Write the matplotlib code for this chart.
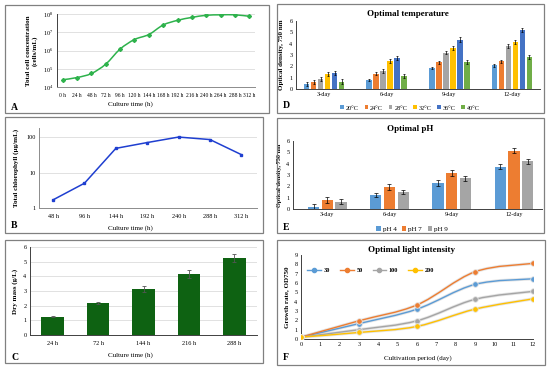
import matplotlib
matplotlib.use("Agg")
import matplotlib.pyplot as plt
import numpy as np
from matplotlib.patches import Rectangle, PathPatch
from matplotlib.path import Path
from matplotlib.lines import Line2D

plt.rcParams['font.family'] = ['Liberation Serif', 'DejaVu Serif']
plt.rcParams['mathtext.fontset'] = 'stix'

# ---- data ----
a_times = ['0 h', '24 h', '48 h', '72 h', '96 h', '120 h', '144 h', '168 h',
           '192 h', '216 h', '240 h', '264 h', '288 h', '312 h']
a_cells = [2.5e4, 3.3e4, 5.5e4, 1.8e5, 1.2e6, 4.0e6, 7.5e6, 2.5e7,
           4.5e7, 6.5e7, 8.5e7, 9.0e7, 9.0e7, 7.5e7]

b_times = ['48 h', '96 h', '144 h', '192 h', '240 h', '288 h', '312 h']
b_chl = [1.7, 5.0, 48, 70, 100, 85, 32]

c_times = ['24 h', '72 h', '144 h', '216 h', '288 h']
c_mass = [1.25, 2.2, 3.15, 4.15, 5.25]
c_err = [0.05, 0.08, 0.2, 0.25, 0.25]

days = ['3-day', '6-day', '9-day', '12-day']
temps = ['20°C', '24°C', '28°C', '32°C', '36°C', '40°C']
temp_od = [[0.45, 0.8, 1.85, 2.1],
           [0.6, 1.35, 2.35, 2.45],
           [0.85, 1.6, 3.2, 3.8],
           [1.3, 2.45, 3.6, 4.15],
           [1.4, 2.75, 4.35, 5.2],
           [0.65, 1.15, 2.4, 2.85]]
temp_err = [[0.15, 0.12, 0.12, 0.12],
            [0.18, 0.15, 0.12, 0.12],
            [0.18, 0.15, 0.12, 0.15],
            [0.18, 0.18, 0.18, 0.15],
            [0.2, 0.2, 0.2, 0.15],
            [0.2, 0.18, 0.18, 0.18]]

phs = ['pH 4', 'pH 7', 'pH 9']
ph_od = [[0.2, 1.25, 2.3, 3.75],
         [0.8, 1.95, 3.2, 5.15],
         [0.65, 1.5, 2.7, 4.2]]
ph_err = [[0.25, 0.2, 0.25, 0.2],
          [0.3, 0.3, 0.25, 0.25],
          [0.2, 0.2, 0.2, 0.2]]

f_days = [0, 3, 6, 9, 12]
lights = ['30', '50', '100', '200']
light_od = [[0.2, 1.65, 3.2, 5.85, 6.45],
            [0.2, 1.95, 3.65, 7.2, 8.1],
            [0.2, 1.0, 1.95, 4.25, 5.1],
            [0.2, 0.7, 1.35, 3.2, 4.3]]

# ---- layout helpers ----
W, H = 550, 368
fig = plt.figure(figsize=(5.5, 3.68), dpi=100)
fig.patch.set_facecolor('white')

def ax_px(l, t, r, b):
    return fig.add_axes([l / W, 1 - b / H, (r - l) / W, (b - t) / H])

def box(l, t, r, b):
    fig.add_artist(Rectangle((l / W, 1 - b / H), (r - l) / W, (b - t) / H,
                             transform=fig.transFigure, fill=False,
                             ec='#808080', lw=0.9))

def ftext(x, y, s, **kw):
    fig.text(x / W, 1 - y / H, s, **kw)

def style(ax, grid=True, spine='#8c8c8c'):
    for s in ['top', 'right']:
        ax.spines[s].set_visible(False)
    ax.spines['left'].set_color(spine)
    ax.spines['bottom'].set_color(spine)
    ax.spines['left'].set_linewidth(0.7)
    ax.spines['bottom'].set_linewidth(0.7)
    ax.tick_params(length=0, labelsize=4.5, pad=2.5)
    if grid:
        ax.yaxis.grid(True, color='#dcdcdc', lw=0.6)
        ax.set_axisbelow(True)

def smooth_path(xs, ys, logy=False):
    # Bezier path through the data points (like Excel's smoothed line)
    x = np.asarray(xs, float)
    y = np.log10(ys) if logy else np.asarray(ys, float)
    n = len(x)
    verts = [(x[0], y[0])]
    codes = [Path.MOVETO]
    for i in range(n - 1):
        p0 = max(i - 1, 0)
        p3 = min(i + 2, n - 1)
        c1 = (x[i] + (x[i + 1] - x[p0]) / 6, y[i] + (y[i + 1] - y[p0]) / 6)
        c2 = (x[i + 1] - (x[p3] - x[i]) / 6, y[i + 1] - (y[p3] - y[i]) / 6)
        verts += [c1, c2, (x[i + 1], y[i + 1])]
        codes += [Path.CURVE4] * 3
    verts = np.array(verts)
    if logy:
        verts[:, 1] = 10 ** verts[:, 1]
    return Path(verts, codes)

LBL = dict(fontsize=5, fontweight='bold')

# ---- A ----
box(5, 5, 269, 113)
ax = ax_px(57, 14, 255, 87)
style(ax)
xa = np.arange(len(a_times))
ax.set_yscale('log')
ax.add_patch(PathPatch(smooth_path(xa, a_cells, logy=True), fill=False,
                       ec='#2eb24c', lw=1.1))
ax.plot(xa, a_cells, 'D', color='#2eb24c', ms=2)
ax.set_ylim(1e4, 1e8)
ax.set_xlim(-0.4, 13.4)
ax.set_xticks(xa)
ax.set_xticklabels(a_times, fontsize=4)
ax.tick_params(axis='both', which='minor', length=0)
ax.tick_params(axis='x', pad=4)
ax.spines['left'].set_color('#404040')
ax.set_ylabel('Total cell concentration\n(cells/mL)', labelpad=4, **LBL)
ftext(130, 104, 'Culture time (h)', fontsize=5, ha='center', va='center')
ftext(11, 107, 'A', fontsize=7, fontweight='bold', va='center')

# ---- B ----
box(5, 117, 263, 233)
ax = ax_px(39, 128, 257, 208)
style(ax)
xb = np.arange(len(b_times))
ax.set_yscale('log')
ax.plot(xb, b_chl, '-s', color='#1f3fd0', lw=1.1, ms=2)
ax.set_ylim(1, 180)
ax.set_xlim(-0.45, 6.5)
ax.set_xticks(xb)
ax.set_xticklabels(b_times)
ax.set_yticks([1, 10, 100])
ax.set_yticklabels(['1', '10', '100'])
ax.tick_params(axis='both', which='minor', length=0, labelleft=False)
ax.tick_params(axis='x', pad=4)
ax.set_ylabel('Total chlorophyll (µg/mL)', labelpad=5, **LBL)
ftext(130, 228, 'Culture time (h)', fontsize=5, ha='center', va='center')
ftext(11, 225, 'B', fontsize=7, fontweight='bold', va='center')

# ---- C ----
box(5, 240, 263, 363)
ax = ax_px(30, 247, 257, 335)
style(ax, spine='#404040')
xc = np.arange(len(c_times))
ax.bar(xc, c_mass, width=0.5, color='#0e6212', zorder=2)
ax.errorbar(xc, c_mass, yerr=c_err, fmt='none', ecolor='#555555',
            elinewidth=0.6, capsize=1.2, capthick=0.6, zorder=3)
ax.set_ylim(0, 6)
ax.set_xlim(-0.5, 4.5)
ax.set_xticks(xc)
ax.set_xticklabels(c_times)
ax.set_yticks(range(7))
ax.tick_params(axis='x', pad=4)
ax.set_ylabel('Dry mass (g/L)', labelpad=4, **LBL)
ftext(130, 355, 'Culture time (h)', fontsize=5, ha='center', va='center')
ftext(11, 357, 'C', fontsize=7, fontweight='bold', va='center')

# ---- D ----
box(277, 4, 544, 113)
ax = ax_px(296, 21, 540, 89)
style(ax, grid=False, spine='#404040')
temp_colors = ['#5b9bd5', '#ed7d31', '#a5a5a5', '#ffc000', '#4472c4', '#70ad47']
xd = np.arange(len(days))
pitch = 0.112
handles = []
for i, (name, vals, errs) in enumerate(zip(temps, temp_od, temp_err)):
    pos = xd + (i - 2.5) * pitch
    h = ax.bar(pos, vals, width=0.09, color=temp_colors[i], label=name, zorder=2)
    ax.errorbar(pos, vals, yerr=errs, fmt='none', ecolor='black',
                elinewidth=0.5, capsize=1, capthick=0.5, zorder=3)
    handles.append(h)
ax.set_ylim(0, 6)
ax.set_xlim(-0.45, 3.45)
ax.set_xticks(xd)
ax.set_xticklabels(days)
ax.set_yticks(range(7))
ax.set_ylabel('Optical density, 750 nm', labelpad=4, **LBL)
ftext(408, 14, 'Optimal temperature', fontsize=6.5, fontweight='bold',
      ha='center', va='center')
fig.legend(handles=handles, loc='center', bbox_to_anchor=(410 / W, 1 - 108 / H),
           ncol=6, fontsize=4.5, frameon=False, handlelength=0.6,
           handleheight=0.6, handletextpad=0.3, columnspacing=0.9)
ftext(283, 106, 'D', fontsize=7, fontweight='bold', va='center')

# ---- E ----
box(277, 118, 544, 233)
ax = ax_px(293, 141, 542, 209)
style(ax, grid=False, spine='#404040')
ph_colors = ['#5b9bd5', '#ed7d31', '#a5a5a5']
pitch = 0.22
handles = []
for i, (name, vals, errs) in enumerate(zip(phs, ph_od, ph_err)):
    pos = xd + (i - 1) * pitch
    h = ax.bar(pos, vals, width=0.18, color=ph_colors[i], label=name, zorder=2)
    ax.errorbar(pos, vals, yerr=errs, fmt='none', ecolor='black',
                elinewidth=0.5, capsize=1.2, capthick=0.5, zorder=3)
    handles.append(h)
ax.set_ylim(0, 6)
ax.set_xlim(-0.55, 3.45)
ax.set_xticks(xd)
ax.set_xticklabels(days)
ax.set_yticks(range(7))
ax.set_ylabel('Optical density, 750 nm', labelpad=3, fontsize=4.5,
              fontweight='bold')
ftext(410, 129, 'Optimal pH', fontsize=6.5, fontweight='bold',
      ha='center', va='center')
fig.legend(handles=handles, loc='center', bbox_to_anchor=(412 / W, 1 - 229 / H),
           ncol=3, fontsize=5, frameon=False, handlelength=0.6,
           handleheight=0.6, handletextpad=0.3, columnspacing=0.8)
ftext(283, 227, 'E', fontsize=7, fontweight='bold', va='center')

# ---- F ----
box(277, 240, 545, 365)
ax = ax_px(301, 255, 533, 339)
style(ax, grid=False, spine='#404040')
light_colors = ['#5b9bd5', '#ed7d31', '#a5a5a5', '#ffc000']
handles = []
for i, (name, vals) in enumerate(zip(lights, light_od)):
    col = light_colors[i]
    ax.add_patch(PathPatch(smooth_path(f_days, vals), fill=False,
                           ec='#d9d9d9', lw=2.2, alpha=0.7, zorder=2))
    ax.add_patch(PathPatch(smooth_path(f_days, vals), fill=False,
                           ec=col, lw=1.0, zorder=3))
    ax.errorbar(f_days, vals, yerr=0.2, fmt='none', ecolor='#7f7f7f',
                elinewidth=0.5, capsize=1, capthick=0.5, zorder=3)
    ax.plot(f_days, vals, 'o', color=col, ms=4, mec='#e6e6e6', mew=0.6,
            zorder=4)
    handles.append(Line2D([], [], color=col, marker='o', ms=3, lw=1.0,
                          label=name))
ax.set_xlim(0, 12)
ax.set_ylim(0, 9)
ax.set_xticks(range(13))
ax.set_yticks(range(10))
ax.set_ylabel('Growth rate, OD750', labelpad=4, **LBL)
ax.legend(handles=handles, loc='center', bbox_to_anchor=(0.3, 0.815),
          ncol=4, frameon=False, handlelength=2.2,
          handletextpad=0.4, columnspacing=1.6, prop={'weight': 'bold', 'size': 4.5})
ftext(412, 250, 'Optimal light intensity', fontsize=6.5, fontweight='bold',
      ha='center', va='center')
ftext(418, 358, 'Cultivation period (day)', fontsize=5, ha='center',
      va='center')
ftext(283, 357, 'F', fontsize=7, fontweight='bold', va='center')

fig.savefig('out.png', dpi=100, facecolor='white')
